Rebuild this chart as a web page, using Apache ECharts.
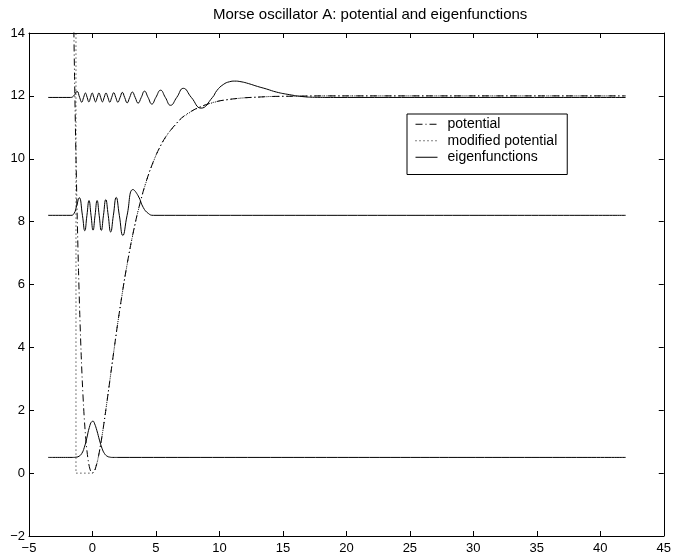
<!DOCTYPE html>
<html><head><meta charset="utf-8">
<script src="https://cdn.jsdelivr.net/npm/echarts/dist/echarts.min.js"></script>
<style>html,body{margin:0;padding:0;background:#fff}#c{width:674px;height:557px}</style>
</head><body><div id="c"></div>
<script>
const chartTitle = 'Morse oscillator A: potential and eigenfunctions';
const legendNames = ['potential', 'modified potential', 'eigenfunctions'];
const xRange = [-5, 45, 5];
const yRange = [-2, 14, 2];

// potential (dash-dot)
const potX = [-1.5,-1.4,-1.3,-1.2,-1.1,-1.0,-0.9,-0.8,-0.7,-0.6,-0.5,-0.4,-0.3,-0.2,-0.1,0,0.1,0.2,0.4,0.6,0.8,1.0,1.25,1.5,1.75,2,2.5,3,3.5,4,4.5,5,5.5,6,7,8,9,10,11,12,13,14,16,18,20,25,30,35,42];
const potY = [14.97,12.33,10.06,8.11,6.45,5.05,3.88,2.90,2.11,1.47,0.97,0.59,0.31,0.13,0.03,0,0.03,0.11,0.39,0.81,1.30,1.86,2.59,3.34,4.08,4.80,6.11,7.24,8.19,8.97,9.60,10.11,10.52,10.83,11.29,11.56,11.73,11.84,11.90,11.94,11.96,11.98,11.99,12.0,12.0,12.0,12.0,12.0,12.0];

// modified potential (dotted)
const modX = [-1.3,-1.3,-1.0,-0.5,0,0.1,0.2,0.4,0.6,0.8,1.0,1.25,1.5,1.75,2,2.5,3,3.5,4,4.5,5,5.5,6,7,8,9,10,11,12,13,14,16,18,20,25,30,35,42];
const modY = [15,0,0,0,0,0.03,0.11,0.39,0.81,1.30,1.86,2.59,3.34,4.08,4.80,6.11,7.24,8.19,8.97,9.60,10.11,10.52,10.83,11.29,11.56,11.73,11.84,11.90,11.94,11.96,11.98,11.99,12.0,12.0,12.0,12.0,12.0,12.0];

// eigenfunctions (solid), each drawn on its energy level
const psi0X = [-3.5,-1.6,-1.25,-1.05,-0.85,-0.65,-0.45,-0.25,-0.05,0.05,0.15,0.35,0.55,0.75,0.95,1.15,1.35,1.6,2.0,42];
const psi0Y = [0.5,0.5,0.51,0.54,0.62,0.81,1.11,1.45,1.64,1.65,1.59,1.35,1.05,0.79,0.62,0.54,0.51,0.5,0.5,0.5];

const psi10X = [-3.5,-1.7,-1.45,-1.25,-1.04,-0.791,-0.606,-0.437,-0.273,-0.113,0.045,0.204,0.365,0.528,0.695,0.866,1.047,1.24,1.433,1.646,1.87,2.116,2.391,2.726,3.19,3.6,4.0,4.4,4.8,42];
const psi10Y = [8.2,8.2,8.26,8.5,8.76,8.2,7.71,8.2,8.67,8.2,7.73,8.2,8.67,8.2,7.72,8.2,8.70,8.2,7.67,8.2,8.77,8.2,7.56,8.2,9.02,8.82,8.45,8.26,8.2,8.2];

const psi22X = [-3.5,-1.75,-1.5,-1.211,-1.012,-0.849,-0.699,-0.556,-0.419,-0.286,-0.153,-0.022,0.110,0.241,0.374,0.508,0.645,0.782,0.922,1.066,1.215,1.363,1.512,1.674,1.836,1.997,2.175,2.353,2.535,2.733,2.93,3.143,3.364,3.594,3.842,4.10,4.379,4.678,4.992,5.365,5.74,6.151,6.636,7.157,7.787,8.55,9.45,9.8,10.3,10.8,11.2,11.7,12.3,13.0,13.7,14.5,15.5,16.5,17.5,19,42];
const psi22Y = [11.95,11.95,11.99,12.14,11.95,11.80,11.95,12.09,11.95,11.81,11.95,12.09,11.95,11.81,11.95,12.09,11.95,11.81,11.95,12.09,11.95,11.80,11.95,12.10,11.95,11.80,11.95,12.11,11.95,11.78,11.95,12.12,11.95,11.77,11.95,12.15,11.95,11.74,11.95,12.18,11.95,11.70,11.95,12.24,11.95,11.61,11.95,12.17,12.36,12.45,12.47,12.45,12.39,12.30,12.22,12.12,12.04,11.98,11.955,11.95,11.95];

const pairs = (xs, ys) => xs.map((x, i) => [x, ys[i]]);
const minus = v => String(v).replace('-', '\u2212');
const FONT = 'Liberation Sans, Arial, Helvetica, sans-serif';

function axisX(pos, show) {
  return {
    type: 'value', position: pos, min: xRange[0], max: xRange[1], interval: xRange[2],
    axisLine: { show: true, onZero: false, lineStyle: { color: '#000', width: 1 } },
    axisTick: { show: true, inside: true, length: 5, lineStyle: { color: '#000' } },
    axisLabel: { show: show, color: '#000', fontSize: 13, fontFamily: FONT, margin: 6, formatter: minus },
    splitLine: { show: false }
  };
}
function axisY(pos, show) {
  return {
    type: 'value', position: pos, min: yRange[0], max: yRange[1], interval: yRange[2],
    axisLine: { show: true, onZero: false, lineStyle: { color: '#000', width: 1 } },
    axisTick: { show: true, inside: true, length: 5, lineStyle: { color: '#000' } },
    axisLabel: { show: show, color: '#000', fontSize: 13, fontFamily: FONT, margin: 4, formatter: minus },
    splitLine: { show: false }
  };
}

const base = { type: 'line', symbol: 'none', showSymbol: false, xAxisIndex: 0, yAxisIndex: 0, clip: true, animation: false, color: '#000' };
const solid = { color: '#000', width: 1, type: 'solid' };

const chart = echarts.init(document.getElementById('c'), null, { renderer: 'canvas' });
chart.setOption({
  animation: false,
  backgroundColor: '#fff',
  title: {
    text: chartTitle, left: 208, top: 2,
    textStyle: { fontSize: 15, fontWeight: 'normal', color: '#000', fontFamily: FONT }
  },
  grid: { left: 29, right: 10, top: 33, bottom: 21, containLabel: false },
  legend: {
    data: legendNames, orient: 'vertical', left: 407, top: 114,
    padding: [2, 10, 9, 8], itemGap: 0, itemWidth: 22, itemHeight: 16.5,
    itemStyle: { opacity: 0, borderWidth: 0 },
    lineStyle: { width: 1 },
    backgroundColor: '#fff', borderColor: '#000', borderWidth: 1, borderRadius: 0,
    textStyle: { fontSize: 14, color: '#000', fontFamily: FONT, lineHeight: 16.5, padding: [0, 0, 0, 5] },
    selectedMode: false
  },
  xAxis: [axisX('bottom', true), axisX('top', false)],
  yAxis: [axisY('left', true), axisY('right', false)],
  series: [
    Object.assign({}, base, { name: 'potential', smooth: 0.3, data: pairs(potX, potY),
      lineStyle: { color: '#000', width: 1, type: [7, 3, 1, 3] } }),
    Object.assign({}, base, { name: 'modified potential', smooth: 0, data: pairs(modX, modY),
      lineStyle: { color: '#000', width: 1, type: [1, 3] } }),
    Object.assign({}, base, { name: 'eigenfunctions', smooth: 0.5, data: pairs(psi0X, psi0Y), lineStyle: solid }),
    Object.assign({}, base, { name: 'eigenfunctions', smooth: 0.5, data: pairs(psi10X, psi10Y), lineStyle: solid }),
    Object.assign({}, base, { name: 'eigenfunctions', smooth: 0.5, data: pairs(psi22X, psi22Y), lineStyle: solid })
  ]
});
</script>
</body></html>
